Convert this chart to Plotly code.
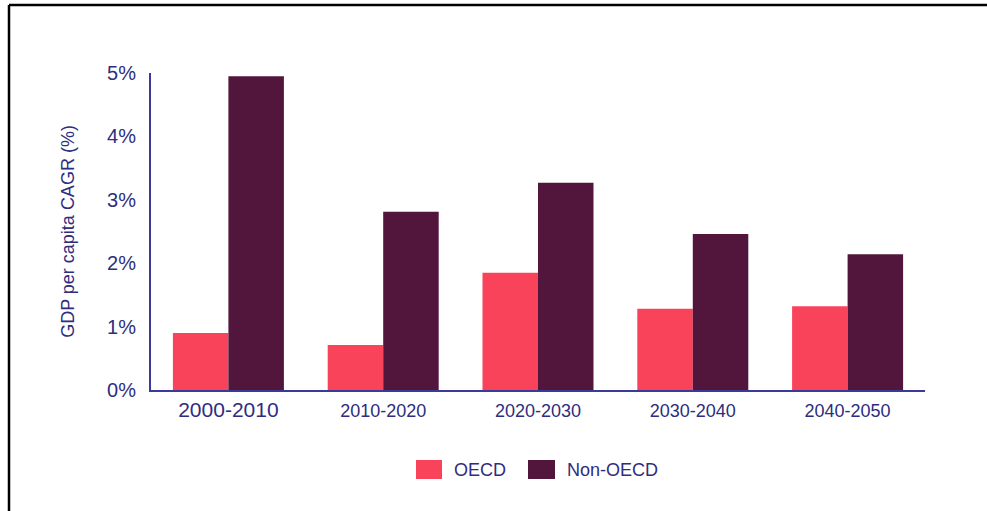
import plotly.graph_objects as go

categories = ["2000-2010", "2010-2020", "2020-2030", "2030-2040", "2040-2050"]
oecd = [0.90, 0.71, 1.85, 1.28, 1.32]
non_oecd = [4.95, 2.81, 3.27, 2.46, 2.14]
series_names = ["OECD", "Non-OECD"]
y_ticks = [0, 1, 2, 3, 4, 5]
y_tick_labels = ["0%", "1%", "2%", "3%", "4%", "5%"]

C_OECD = "#F9435A"
C_NON = "#52163D"
TXT = "#2E2D80"
AXIS = "#3A3A98"
FONT = "Arial, Liberation Sans, sans-serif"

fig = go.Figure()
fig.add_trace(go.Bar(x=categories, y=oecd, name=series_names[0], marker=dict(color=C_OECD, line=dict(width=0)), showlegend=False))
fig.add_trace(go.Bar(x=categories, y=non_oecd, name=series_names[1], marker=dict(color=C_NON, line=dict(width=0)), showlegend=False))

ticktext = [f'<span style="font-size:21px">{c}</span>' if i == 0 else c for i, c in enumerate(categories)]

fig.update_layout(
    width=987, height=511,
    margin=dict(l=151, r=62, t=73, b=121),
    paper_bgcolor="white", plot_bgcolor="white",
    barmode="group", bargap=0.283, bargroupgap=0,
    font=dict(family=FONT, color=TXT, size=18),
    xaxis=dict(
        type="category", tickvals=categories, ticktext=ticktext,
        showgrid=False, showline=True, linecolor=AXIS, linewidth=2,
        ticks="", tickfont=dict(size=18, color=TXT), ticklabelstandoff=3,
        zeroline=False,
    ),
    yaxis=dict(
        range=[0, 5.0], tickvals=y_ticks, ticktext=y_tick_labels,
        showgrid=False, showline=True, linecolor=AXIS, linewidth=2,
        ticks="", tickfont=dict(size=20, color=TXT), ticklabelstandoff=9,
        zeroline=False,
        title=dict(text="GDP per capita CAGR (%)", font=dict(size=18, color=TXT), standoff=28),
    ),
    shapes=[
        dict(type="line", xref="paper", yref="paper", x0=(9 - 151) / 774, x1=(990 - 151) / 774,
             y0=(390 - 5) / 317, y1=(390 - 5) / 317, line=dict(color="black", width=2.5)),
        dict(type="line", xref="paper", yref="paper", x0=(9 - 151) / 774, x1=(9 - 151) / 774,
             y0=(390 - 5) / 317, y1=(390 - 515) / 317, line=dict(color="black", width=2.5)),
        # legend swatches
        dict(type="rect", xref="paper", yref="paper", x0=(416 - 151) / 774, x1=(442 - 151) / 774,
             y0=(390 - 460) / 317, y1=(390 - 479) / 317, fillcolor=C_OECD, line=dict(width=0)),
        dict(type="rect", xref="paper", yref="paper", x0=(528 - 151) / 774, x1=(555 - 151) / 774,
             y0=(390 - 460) / 317, y1=(390 - 479) / 317, fillcolor=C_NON, line=dict(width=0)),
    ],
    annotations=[
        dict(text=series_names[0], xref="paper", yref="paper", x=(452 - 151) / 774, y=(390 - 469.5) / 317,
             xanchor="left", yanchor="middle", showarrow=False, font=dict(size=18, color=TXT)),
        dict(text=series_names[1], xref="paper", yref="paper", x=(565 - 151) / 774, y=(390 - 469.5) / 317,
             xanchor="left", yanchor="middle", showarrow=False, font=dict(size=18, color=TXT)),
    ],
)

fig.write_html("out.html", config={"displayModeBar": False},
               post_script="document.body.style.margin='0';document.body.style.overflow='hidden';")
